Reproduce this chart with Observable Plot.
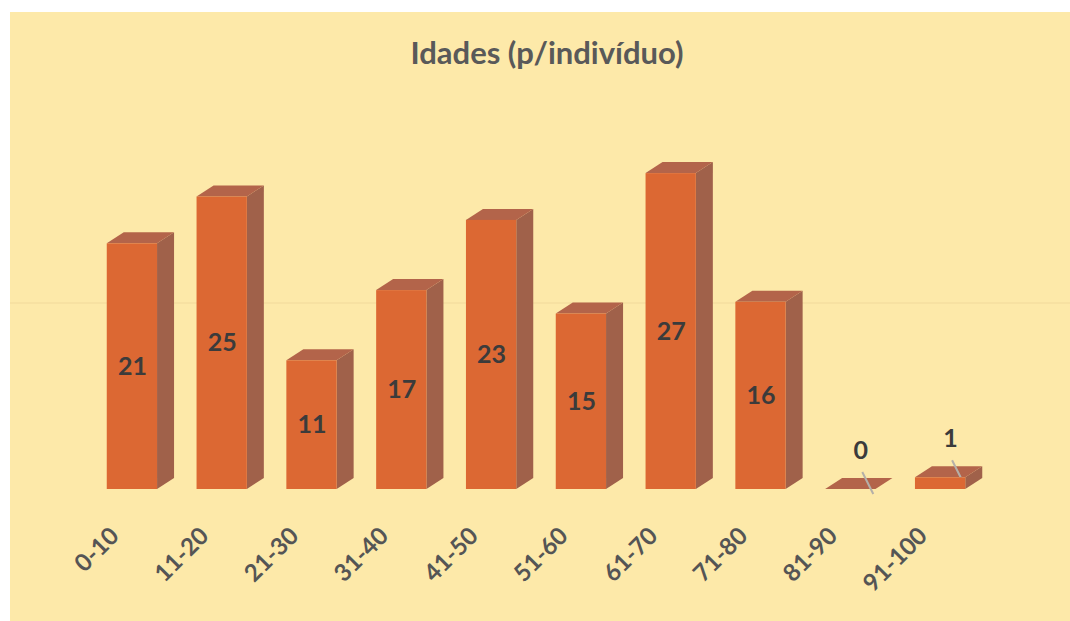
<!DOCTYPE html>
<html><head><meta charset="utf-8">
<script src="https://cdn.jsdelivr.net/npm/d3@7"></script>
<script src="https://cdn.jsdelivr.net/npm/@observablehq/plot@0.6"></script>
<style>
body{margin:0;background:#fff;}
#wrap{position:relative;width:1070px;height:621px;overflow:hidden;background:#fff;}
#panel{position:absolute;left:10px;top:12px;right:0;bottom:0;background:#fde9a9;}
#title{position:absolute;left:12px;width:1070px;top:33px;text-align:center;font:bold 31px Lato, "Open Sans", sans-serif;color:#595959;}
#chart{position:absolute;left:0;top:0;}
</style></head><body>
<div id="wrap"><div id="panel"></div><div id="chart"></div><div id="title">Idades (p/indivíduo)</div></div>
<script>
const categories = ["0-10","11-20","21-30","31-40","41-50","51-60","61-70","71-80","81-90","91-100"];
const values = [21, 25, 11, 17, 23, 15, 27, 16, 0, 1];
const gridValues = [15];

const data = categories.map((c, i) => ({faixa: c, n: values[i]}));
const big = data.filter(d => d.n >= 3);
const small = data.filter(d => d.n < 3);

const FRONT = "#dc6833", SIDE = "#a0614a", TOP = "#b3644a";
const DX = 17, DY = -11;

function extrude(index, scales) {
  const x = scales.x, y = scales.y;
  const bw = x.bandwidth();
  const g = d3.create("svg:g");
  for (const d of data) {
    const x0 = x(d.faixa), x1 = x0 + bw, yt = y(d.n), yb = y(0);
    g.append("path")
      .attr("d", `M${x1},${yt}L${x1 + DX},${yt + DY}L${x1 + DX},${yb + DY}L${x1},${yb}Z`)
      .attr("fill", SIDE);
    g.append("path")
      .attr("d", `M${x0},${yt}L${x0 + DX},${yt + DY}L${x1 + DX},${yt + DY}L${x1},${yt}Z`)
      .attr("fill", TOP);
  }
  for (const d of small) {
    const cx = x(d.faixa) + bw / 2, yt = y(d.n);
    g.append("line")
      .attr("x1", cx + 12).attr("y1", yt - 17)
      .attr("x2", cx + 23).attr("y2", yt + 5)
      .attr("stroke", "#b5b0a8").attr("stroke-width", 2);
  }
  return g.node();
}

const chart = Plot.plot({
  width: 1070,
  height: 621,
  marginLeft: 87,
  marginRight: 85,
  marginTop: 138,
  marginBottom: 132,
  style: {background: "transparent", overflow: "visible"},
  x: {domain: categories, paddingInner: 0.44, paddingOuter: 0.22, round: false, axis: null},
  y: {domain: [0, 30], axis: null},
  marks: [
    Plot.ruleY(gridValues, {dy: DY, stroke: "#f1d99b", strokeWidth: 1, insetLeft: -77, insetRight: -85}),
    extrude,
    Plot.barY(data, {x: "faixa", y: "n", fill: FRONT}),
    Plot.text(big, {x: "faixa", y: d => d.n / 2, text: d => String(d.n), fill: "#3b3b3b",
      fontSize: 25, fontWeight: "bold", fontFamily: "Lato, 'Open Sans', sans-serif"}),
    Plot.text(small, {x: "faixa", y: "n", text: d => String(d.n), fill: "#3b3b3b", dx: 10, dy: -39,
      fontSize: 25, fontWeight: "bold", fontFamily: "Lato, 'Open Sans', sans-serif"}),
    Plot.text(categories, {x: d => d, frameAnchor: "bottom", rotate: -45, textAnchor: "end",
      dx: -12, dy: 48, fill: "#555555", fontSize: 24, fontWeight: "bold",
      fontFamily: "Lato, 'Open Sans', sans-serif"})
  ]
});
document.getElementById("chart").appendChild(chart);
</script>
</body></html>
